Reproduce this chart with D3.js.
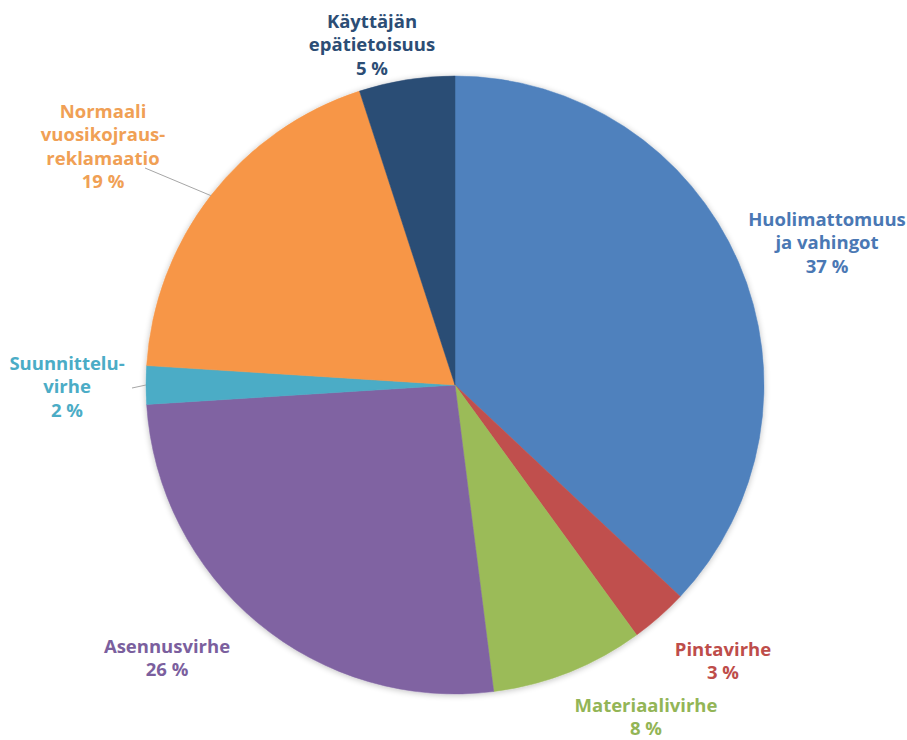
<!DOCTYPE html>
<html>
<head>
<meta charset="utf-8">
<script src="https://cdn.jsdelivr.net/npm/d3@7"></script>
<style>
  html, body { margin: 0; padding: 0; background: #fff; }
  svg { display: block; }
</style>
</head>
<body>
<svg id="chart" width="907" height="740"></svg>
<script>
// Reclamation causes, clockwise from 12 o'clock
const categories = [
  "Huolimattomuus ja vahingot",
  "Pintavirhe",
  "Materiaalivirhe",
  "Asennusvirhe",
  "Suunnitteluvirhe",
  "Normaali vuosikojraus-reklamaatio",
  "Käyttäjän epätietoisuus"
];
const values = [37, 3, 8, 26, 2, 19, 5];
const labelLines = [
  ["Huolimattomuus", "ja vahingot"],
  ["Pintavirhe"],
  ["Materiaalivirhe"],
  ["Asennusvirhe"],
  ["Suunnittelu-", "virhe"],
  ["Normaali", "vuosikojraus-", "reklamaatio"],
  ["Käyttäjän", "epätietoisuus"]
];
const colors = ["#4F81BD", "#C0504D", "#9BBB59", "#8064A2", "#4BACC6", "#F79646", "#2C4D75"];
const textColors = ["#4A78B4", "#BE4D4A", "#93B556", "#7B5F9E", "#4BACC6", "#F0A055", "#2C4D75"];

// Layout: label block centres (x, y of first line)
const labelAnchor = [
  [827, 218], [723, 648], [646, 704], [167, 645],
  [67, 362], [103, 110], [372, 20]
];
const lineHeight = 23.5;

const svg = d3.select("#chart");
const cx = 455, cy = 385, radius = 309;

const defs = svg.append("defs");
const f = defs.append("filter").attr("id", "shadow")
  .attr("x", "-10%").attr("y", "-10%").attr("width", "120%").attr("height", "120%");
f.append("feGaussianBlur").attr("in", "SourceAlpha").attr("stdDeviation", 3).attr("result", "b");
f.append("feOffset").attr("in", "b").attr("dx", 0).attr("dy", 1).attr("result", "o");
f.append("feComponentTransfer").attr("in", "o").attr("result", "s")
  .append("feFuncA").attr("type", "linear").attr("slope", 0.25);
const m = f.append("feMerge");
m.append("feMergeNode").attr("in", "s");
m.append("feMergeNode").attr("in", "SourceGraphic");

const pie = d3.pie().sort(null).value(d => d)(values);
const arc = d3.arc().innerRadius(0).outerRadius(radius);

const g = svg.append("g").attr("transform", `translate(${cx},${cy})`);
g.append("g").attr("filter", "url(#shadow)")
  .selectAll("path").data(pie).join("path")
  .attr("d", arc)
  .attr("fill", (d, i) => colors[i])
  .attr("stroke", (d, i) => colors[i])
  .attr("stroke-width", 0.5);

// Leader lines for the labels set away from their slices
const leaders = [
  { i: 5, from: [145, 168], frac: 0.5 },
  { i: 4, from: [132, 388], frac: 0.5 }
];
leaders.forEach(l => {
  const d = pie[l.i];
  const a = d.startAngle + (d.endAngle - d.startAngle) * l.frac;
  const px = cx + Math.sin(a) * radius;
  const py = cy - Math.cos(a) * radius;
  svg.append("line")
    .attr("x1", l.from[0]).attr("y1", l.from[1])
    .attr("x2", px).attr("y2", py)
    .attr("stroke", "#A6A6A6").attr("stroke-width", 1);
});

// Labels
labelLines.forEach((lines, i) => {
  const all = lines.concat([values[i] + " %"]);
  const t = svg.append("text")
    .attr("text-anchor", "middle")
    .attr("fill", textColors[i])
    .style("font-family", "'Open Sans', 'Liberation Sans', Arial, sans-serif")
    .style("font-weight", "bold")
    .style("font-size", "18.5px");
  all.forEach((s, k) => {
    t.append("tspan")
      .attr("x", labelAnchor[i][0])
      .attr("y", labelAnchor[i][1] + k * lineHeight)
      .attr("dominant-baseline", "central")
      .text(s);
  });
});
</script>
</body>
</html>
